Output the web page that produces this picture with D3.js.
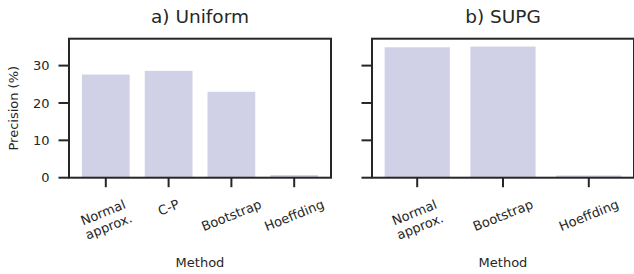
<!DOCTYPE html>
<html>
<head>
<meta charset="utf-8">
<script src="https://cdn.jsdelivr.net/npm/d3@7"></script>
<style>
  body { margin: 0; background: #fff; }
  text { font-family: "DejaVu Sans", sans-serif; fill: #262626; }
</style>
</head>
<body>
<div id="chart"></div>
<script>
// data
let uniformMethods = ["Normal\napprox.", "C-P", "Bootstrap", "Hoeffding"];
let uniformPrecision = [27.6, 28.6, 23.0, 0.7];
let supgMethods = ["Normal\napprox.", "Bootstrap", "Hoeffding"];
let supgPrecision = [34.9, 35.1, 0.6];
let yTicks = [0, 10, 20, 30];

let width = 634;
let height = 274;
let plotTop = 38.7, plotBottom = 177.7;
let ink = "#262626";
let barColor = "#d0d1e6";
let tickFont = "13px";

let svg = d3.select("#chart").append("svg")
  .attr("width", width)
  .attr("height", height);

// shared y scale
let y = d3.scaleLinear().domain([0, 37.2]).range([plotBottom, plotTop]);

function drawPanel(opts) {
  let { left, right, title, methods, values, outer, showYLabels } = opts;
  let g = svg.append("g");

  let x = d3.scaleBand()
    .domain(methods)
    .range([left, right])
    .paddingInner(0.24)
    .paddingOuter(outer);

  // bars
  g.selectAll("rect.bar")
    .data(values)
    .enter().append("rect")
    .attr("class", "bar")
    .attr("x", (d, i) => x(methods[i]))
    .attr("width", x.bandwidth())
    .attr("y", d => y(d))
    .attr("height", d => y(0) - y(d))
    .attr("fill", barColor);

  // y ticks
  g.selectAll("line.ytick")
    .data(yTicks)
    .enter().append("line")
    .attr("x1", left - 10.5).attr("x2", left)
    .attr("y1", d => y(d)).attr("y2", d => y(d))
    .attr("stroke", ink).attr("stroke-width", 2);

  if (showYLabels) {
    g.selectAll("text.ytick")
      .data(yTicks)
      .enter().append("text")
      .attr("x", left - 19.5)
      .attr("y", d => y(d))
      .attr("dy", "0.36em")
      .attr("text-anchor", "end")
      .style("font-size", tickFont)
      .text(d => d);
  }

  // x ticks
  g.selectAll("line.xtick")
    .data(methods)
    .enter().append("line")
    .attr("x1", d => x(d) + x.bandwidth() / 2)
    .attr("x2", d => x(d) + x.bandwidth() / 2)
    .attr("y1", plotBottom).attr("y2", plotBottom + 9.5)
    .attr("stroke", ink).attr("stroke-width", 2);

  // rotated x tick labels, centred like matplotlib (ha=center, top aligned)
  let deg = 22;
  let angle = deg * Math.PI / 180;
  methods.forEach(m => {
    let cx = x(m) + x.bandwidth() / 2;
    let lines = m.split("\n");
    let lab = g.append("g");
    let t = lab.append("text")
      .attr("text-anchor", "middle")
      .style("font-size", tickFont);
    lines.forEach((ln, i) => {
      t.append("tspan")
        .attr("x", 0)
        .attr("dy", i === 0 ? 0 : "1.15em")
        .text(ln);
    });
    let bb = t.node().getBBox();
    // shift so the text block is centred at origin
    t.attr("transform", "translate(0," + (-(bb.y + bb.height / 2)) + ")");
    let rotH = bb.width * Math.sin(angle) + bb.height * Math.cos(angle);
    let cy = 196.5 + rotH / 2;
    lab.attr("transform", "translate(" + cx + "," + cy + ") rotate(" + (-deg) + ")");
  });

  // frame
  g.append("rect")
    .attr("x", left).attr("y", plotTop)
    .attr("width", right - left).attr("height", plotBottom - plotTop)
    .attr("fill", "none")
    .attr("stroke", ink).attr("stroke-width", 2);

  // title
  g.append("text")
    .attr("x", (left + right) / 2)
    .attr("y", 23)
    .attr("text-anchor", "middle")
    .style("font-size", "18.5px")
    .text(title);

  // x label
  g.append("text")
    .attr("x", (left + right) / 2)
    .attr("y", 267)
    .attr("text-anchor", "middle")
    .style("font-size", "13px")
    .text("Method");
}

drawPanel({ left: 69, right: 331, title: "a) Uniform",
  methods: uniformMethods, values: uniformPrecision, outer: 0.206, showYLabels: true });
drawPanel({ left: 372, right: 634, title: "b) SUPG",
  methods: supgMethods, values: supgPrecision, outer: 0.147, showYLabels: false });

// y label
svg.append("text")
  .attr("transform", "translate(17.5," + ((plotTop + plotBottom) / 2) + ") rotate(-90)")
  .attr("text-anchor", "middle")
  .style("font-size", "13px")
  .text("Precision (%)");
</script>
</body>
</html>
